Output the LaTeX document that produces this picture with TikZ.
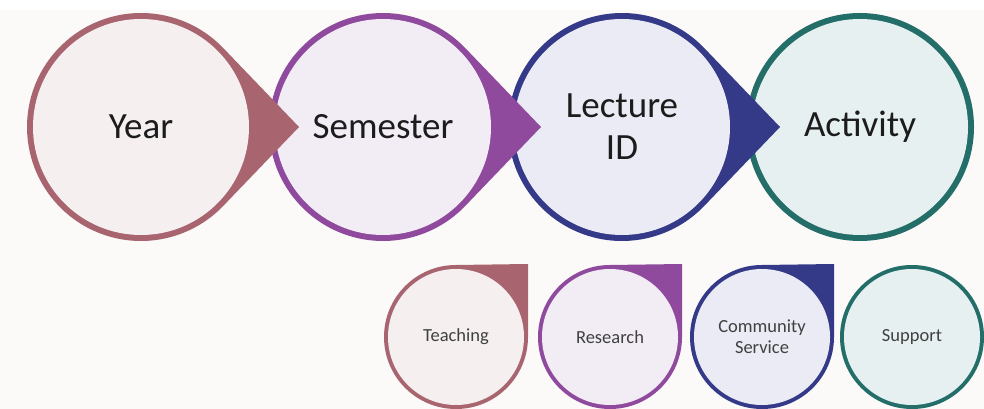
\documentclass[tikz,border=0pt]{standalone}
\usepackage{fontspec}
\setmainfont{Carlito}
\usetikzlibrary{calc}
\definecolor{bgc}{HTML}{FBFAF9}
\definecolor{roseD}{HTML}{A86570}
\definecolor{roseL}{HTML}{F5EFF0}
\definecolor{purpD}{HTML}{8F4A9D}
\definecolor{purpL}{HTML}{F2ECF5}
\definecolor{navyD}{HTML}{343A88}
\definecolor{navyL}{HTML}{EAEBF4}
\definecolor{tealD}{HTML}{236E69}
\definecolor{tealL}{HTML}{E7F0F0}
\definecolor{bigtxt}{HTML}{1C1C1C}
\definecolor{smalltxt}{HTML}{404040}
\tikzset{
  bigtext/.style={font=\fontsize{37}{42}\selectfont, text=bigtxt, align=center, inner sep=0pt},
  smalltext/.style={font=\fontsize{18.5}{21}\selectfont, text=smalltxt, align=center, inner sep=0pt},
}
% big teardrop pointing right: #1 center, #2 dark, #3 light
\newcommand{\mybigdrop}[3]{%
  \fill[#2] ($(#1)+(158,0)$) -- ($(#1)+(43.8:114)$) arc[start angle=43.8, end angle=316.2, radius=114] -- cycle;
  \fill[#3] (#1) circle[radius=108];
}
\newcommand{\mybigcirc}[3]{%
  \fill[#2] (#1) circle[radius=114];
  \fill[#3] (#1) circle[radius=108];
}
% small teardrop with corner at top-right
\newcommand{\mysmalldrop}[3]{%
  \fill[#2] ($(#1)+(0,72)$) -- ($(#1)+(72,73)$) -- ($(#1)+(72,0)$) arc[start angle=0, end angle=-270, radius=72] -- cycle;
  \fill[#3] (#1) circle[radius=68];
}
\newcommand{\mysmallcirc}[3]{%
  \fill[#2] (#1) circle[radius=72];
  \fill[#3] (#1) circle[radius=68];
}
\begin{document}
\begin{tikzpicture}[x=1pt,y=1pt]
  \useasboundingbox (0,0) rectangle (984,409);
  \fill[white] (0,0) rectangle (984,409);
  \fill[bgc] (0,0) rectangle (984,399);
  % centers
  \coordinate (cY) at (141,282);
  \coordinate (cS) at (383,282);
  \coordinate (cL) at (622,282);
  \coordinate (cA) at (860,282);
  \coordinate (cT) at (456,72);
  \coordinate (cR) at (610,72);
  \coordinate (cC) at (762,72);
  \coordinate (cP) at (912,72);
  % big shapes, right to left so pointers overlap
  \mybigcirc{cA}{tealD}{tealL}
  \mybigdrop{cL}{navyD}{navyL}
  \mybigdrop{cS}{purpD}{purpL}
  \mybigdrop{cY}{roseD}{roseL}
  % small shapes
  \mysmalldrop{cT}{roseD}{roseL}
  \mysmalldrop{cR}{purpD}{purpL}
  \mysmalldrop{cC}{navyD}{navyL}
  \mysmallcirc{cP}{tealD}{tealL}
  % texts
  \node[bigtext] (year) at (cY) {Year};
  \node[bigtext] (semester) at (cS) {Semester};
  \node[bigtext] (lecture) at (cL) {Lecture\\ID};
  \node[bigtext] (activity) at (cA) {Activity};
  \node[smalltext] (teaching) at (cT) {Teaching};
  \node[smalltext] (research) at (cR) {Research};
  \node[smalltext] (community) at (cC) {Community\\Service};
  \node[smalltext] (support) at (cP) {Support};
\end{tikzpicture}
\end{document}
